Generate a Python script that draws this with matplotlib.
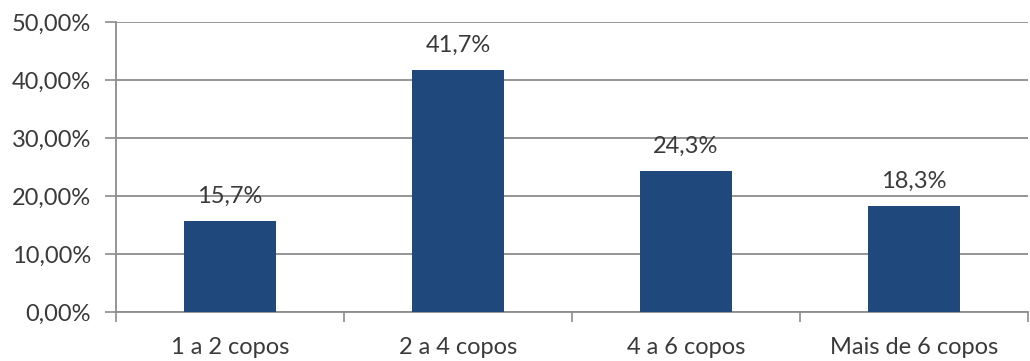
import matplotlib
matplotlib.use("Agg")
import matplotlib.pyplot as plt
from matplotlib.ticker import FuncFormatter, FixedLocator

plt.rcParams['font.family'] = ['Lato', 'DejaVu Sans']

categories = ["1 a 2 copos", "2 a 4 copos", "4 a 6 copos", "Mais de 6 copos"]
values = [15.7, 41.7, 24.3, 18.3]
value_labels = ["15,7%", "41,7%", "24,3%", "18,3%"]
yticks = [0, 10, 20, 30, 40, 50]

bar_color = "#1F497D"
text_color = "#3A3A3A"
line_color = "#8C8C8C"

fig = plt.figure(figsize=(10.30, 3.61), dpi=100)
ax = fig.add_axes([0.1126, 0.1357, 0.8854, 0.8033])

x = list(range(len(categories)))
ax.bar(x, values, width=0.40, color=bar_color, zorder=3)

for xi, v, lab in zip(x, values, value_labels):
    ax.annotate(lab, (xi, v), xytext=(0, 10), textcoords="offset points",
                ha="center", va="bottom", fontsize=17, color=text_color, zorder=4)

ax.set_xlim(-0.5, len(categories) - 0.5)
ax.set_ylim(0, 50)
ax.set_yticks(yticks)
ax.yaxis.set_major_formatter(FuncFormatter(lambda v, p: f"{v:.2f}%".replace(".", ",")))
ax.yaxis.grid(True, color=line_color, linewidth=1.3, zorder=0)

# category labels centred, tick marks on the category boundaries
ax.set_xticks(x)
ax.set_xticklabels(categories)
ax.xaxis.set_minor_locator(FixedLocator([i - 0.5 for i in range(len(categories) + 1)]))
ax.tick_params(axis="x", which="major", length=0, pad=18, labelsize=17, labelcolor=text_color)
ax.tick_params(axis="x", which="minor", length=7, width=1.2, color=line_color)
ax.tick_params(axis="y", length=8, width=1.2, color=line_color, pad=10,
               labelsize=17, labelcolor=text_color)

for side in ("top", "right"):
    ax.spines[side].set_visible(False)
for side in ("left", "bottom"):
    ax.spines[side].set_color(line_color)
    ax.spines[side].set_linewidth(1.3)

fig.savefig("out.png", dpi=100)
